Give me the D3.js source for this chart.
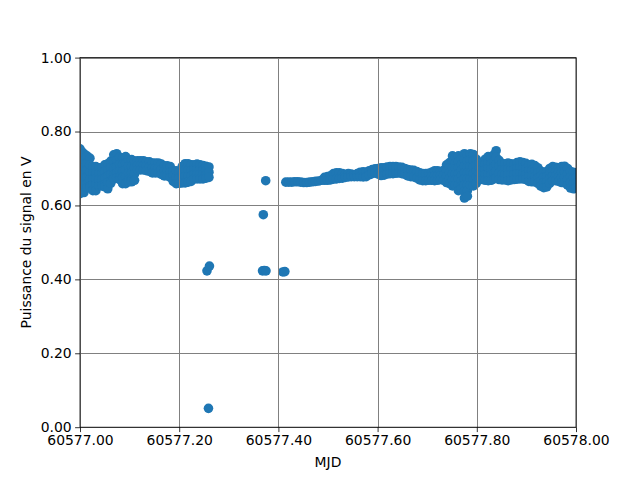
<!DOCTYPE html>
<html><head><meta charset="utf-8">
<script src="https://cdn.jsdelivr.net/npm/d3@7"></script>
<style>html,body{margin:0;padding:0;background:#fff;}</style>
</head><body>
<script>
// Readings per timestamp (MJD) and signal power (V)
const sampleMjd = [
60577.000,60577.004,60577.008,60577.014,60577.020,60577.026,60577.032,60577.038,60577.044,60577.050,
60577.056,60577.062,60577.068,60577.074,60577.080,60577.086,60577.092,60577.098,60577.104,60577.110,
60577.116,60577.122,60577.128,60577.134,60577.140,60577.146,60577.152,60577.158,60577.164,60577.170,
60577.176,60577.182,60577.188,60577.194,60577.200,60577.206,60577.212,60577.218,60577.224,60577.230,
60577.236,60577.242,60577.248,60577.254,60577.260,
60577.256,60577.259,60577.261,60577.368,60577.3696,60577.3715,60577.3744,60577.375,60577.409,60577.413,
60577.415,60577.421,60577.427,60577.433,60577.439,60577.445,60577.451,60577.457,60577.463,60577.469,
60577.475,60577.481,60577.487,60577.493,60577.499,60577.505,60577.511,60577.517,60577.523,60577.529,
60577.535,60577.541,60577.547,60577.553,60577.559,60577.565,60577.571,60577.577,60577.583,60577.589,
60577.595,60577.601,60577.607,60577.613,60577.619,60577.625,60577.631,60577.637,60577.643,60577.649,
60577.655,60577.661,60577.667,60577.673,60577.679,60577.685,60577.691,60577.697,60577.703,60577.709,
60577.715,60577.721,60577.727,60577.733,60577.739,60577.745,60577.751,60577.757,60577.763,60577.769,
60577.775,60577.781,60577.787,60577.793,60577.799,60577.805,60577.811,60577.817,60577.823,60577.829,
60577.835,60577.839,60577.845,60577.851,60577.857,60577.863,60577.869,60577.875,60577.881,60577.887,
60577.893,60577.899,60577.905,60577.911,60577.917,60577.923,60577.929,60577.935,60577.941,60577.947,
60577.953,60577.959,60577.965,60577.971,60577.977,60577.983,60577.989,60577.995,60578.000
];
const samplePower = [
[0.753,0.733,0.713,0.693,0.673,0.652,0.632],[0.745,0.726,0.707,0.688,0.669,0.650,0.640],[0.740,0.721,0.702,0.683,0.664,0.645,0.635],[0.734,0.715,0.696,0.677,0.658,0.648],[0.728,0.709,0.690,0.670,0.652,0.648],
[0.705,0.688,0.672,0.656,0.640],[0.705,0.688,0.672,0.656,0.640],[0.702,0.686,0.670,0.653],[0.702,0.686,0.670,0.653],[0.710,0.692,0.674,0.656,0.650],
[0.713,0.696,0.679,0.662,0.645],[0.720,0.702,0.684,0.666,0.660],[0.737,0.719,0.701,0.683,0.672],[0.740,0.722,0.705,0.688,0.675],[0.730,0.712,0.694,0.676,0.670],
[0.729,0.711,0.693,0.676,0.659],[0.732,0.714,0.696,0.678,0.659],[0.724,0.706,0.688,0.670,0.664],[0.724,0.706,0.688,0.670,0.664],[0.720,0.702,0.685,0.668],
[0.721,0.708,0.696],[0.721,0.708,0.696],[0.721,0.708,0.696],[0.718,0.706,0.694],[0.718,0.705,0.692],
[0.715,0.701,0.688],[0.715,0.701,0.688],[0.715,0.701,0.688],[0.712,0.698,0.684],[0.707,0.693,0.680],
[0.707,0.693,0.680],[0.705,0.690,0.676],[0.694,0.680,0.665],[0.694,0.676,0.659],[0.690,0.675,0.660],
[0.705,0.690,0.675,0.661],[0.713,0.696,0.679,0.661],[0.713,0.696,0.679,0.663],[0.710,0.695,0.680,0.665],[0.710,0.697,0.684,0.672],
[0.712,0.698,0.685,0.672],[0.710,0.697,0.684,0.672],[0.708,0.696,0.684,0.672],[0.706,0.694,0.682,0.674],[0.704,0.690,0.676],
[0.423],[0.051],[0.436],[0.423],[0.575],[0.424],[0.667],[0.423],[0.420],[0.421],
[0.663],[0.663],[0.663],[0.664],[0.664],[0.663],[0.662],[0.662],[0.663],[0.664],
[0.665],[0.666],[0.668],[0.676,0.668],[0.678,0.668],[0.680,0.669],[0.686,0.671],[0.688,0.672],[0.688,0.673],[0.686,0.674],
[0.684,0.676],[0.686,0.677],[0.685,0.678],[0.683,0.678],[0.686,0.678],[0.690,0.678],[0.691,0.677],[0.690,0.678],[0.694,0.683],[0.697,0.686],
[0.699,0.688],[0.700,0.685],[0.702,0.691,0.681],[0.702,0.692,0.682],[0.704,0.685],[0.705,0.686],[0.705,0.686],[0.705,0.687],[0.704,0.688],[0.703,0.686],
[0.700,0.684],[0.697,0.680],[0.696,0.678],[0.695,0.677],[0.692,0.674],[0.688,0.669],[0.686,0.667],[0.686,0.667],[0.687,0.668],[0.690,0.679,0.668],
[0.694,0.680,0.667],[0.694,0.681,0.668],[0.692,0.681,0.670],[0.695,0.682,0.668],[0.710,0.694,0.678,0.662],[0.716,0.702,0.688,0.673,0.659],[0.734,0.718,0.702,0.685,0.669,0.653],[0.730,0.715,0.700,0.685,0.670,0.655],[0.734,0.718,0.702,0.686,0.671,0.655,0.640],[0.726,0.711,0.696,0.681,0.666,0.652,0.645],
[0.740,0.723,0.706,0.689,0.672,0.655,0.638,0.620],[0.736,0.720,0.704,0.688,0.672,0.656,0.640,0.625],[0.740,0.723,0.706,0.689,0.672,0.655],[0.738,0.721,0.704,0.687,0.670,0.653],[0.725,0.709,0.693,0.677,0.660],[0.715,0.701,0.687,0.672],[0.712,0.698,0.684,0.670],[0.725,0.711,0.697,0.683,0.668],[0.732,0.716,0.700,0.684,0.667],[0.728,0.713,0.698,0.683,0.668],
[0.738,0.721,0.705,0.688,0.672],[0.748,0.730,0.711,0.692,0.674],[0.722,0.705,0.688,0.670],[0.713,0.698,0.684,0.669],[0.713,0.698,0.684,0.669],[0.715,0.699,0.683,0.667],[0.713,0.698,0.684,0.669],[0.711,0.697,0.684,0.670],[0.716,0.701,0.686,0.671],[0.718,0.703,0.688,0.672],
[0.716,0.701,0.686,0.672],[0.714,0.699,0.684,0.670],[0.710,0.695,0.680,0.665],[0.711,0.695,0.680,0.664],[0.708,0.693,0.678,0.664],[0.702,0.688,0.674,0.660],[0.693,0.679,0.665,0.652],[0.690,0.676,0.662,0.648],[0.692,0.678,0.664,0.650],[0.700,0.687,0.673,0.660],
[0.705,0.692,0.680,0.667],[0.703,0.691,0.679,0.667],[0.702,0.690,0.677,0.665],[0.705,0.691,0.676,0.662],[0.706,0.691,0.676,0.661],[0.700,0.685,0.670,0.655],[0.692,0.677,0.662,0.647],[0.690,0.675,0.660,0.645],[0.688,0.675,0.661,0.648]
];
const xTicks = [60577.0, 60577.2, 60577.4, 60577.6, 60577.8, 60578.0];
const yTicks = [0.0, 0.2, 0.4, 0.6, 0.8, 1.0];
const xLabel = "MJD";
const yLabel = "Puissance du signal en V";

const W = 640, H = 480;
const m = {left: 80, right: 576, top: 57.6, bottom: 427.2};
const font = "'DejaVu Sans', sans-serif";

const points = [];
sampleMjd.forEach((t, i) => samplePower[i].forEach(v => points.push({t, v})));

const x = d3.scaleLinear().domain([60577.0, 60578.0]).range([m.left, m.right]);
const y = d3.scaleLinear().domain([0, 1]).range([m.bottom, m.top]);

const svg = d3.select("body").append("svg").attr("width", W).attr("height", H)
  .style("font-family", font);
svg.append("rect").attr("width", W).attr("height", H).attr("fill", "#fff");

svg.append("defs").append("clipPath").attr("id", "clip")
  .append("rect").attr("x", m.left).attr("y", m.top)
  .attr("width", m.right - m.left).attr("height", m.bottom - m.top);

svg.append("g").attr("clip-path", "url(#clip)")
  .selectAll("circle").data(points).join("circle")
  .attr("cx", d => x(d.t)).attr("cy", d => y(d.v)).attr("r", 4.8)
  .attr("fill", "#1f77b4");

// grid (above markers, as in the reference)
const grid = svg.append("g").attr("stroke", "#808080").attr("stroke-width", 1);
grid.selectAll(".gx").data(xTicks).join("line")
  .attr("x1", d => Math.round(x(d)) + 0.5).attr("x2", d => Math.round(x(d)) + 0.5)
  .attr("y1", m.top).attr("y2", m.bottom);
grid.selectAll(".gy").data(yTicks).join("line")
  .attr("y1", d => Math.round(y(d)) + 0.5).attr("y2", d => Math.round(y(d)) + 0.5)
  .attr("x1", m.left).attr("x2", m.right);

const xAxis = d3.axisBottom(x).tickValues(xTicks).tickFormat(d3.format(".2f"))
  .tickSize(4.9).tickPadding(3.5);
const yAxis = d3.axisLeft(y).tickValues(yTicks).tickFormat(d3.format(".2f"))
  .tickSize(4.9).tickPadding(3.5);

const gx = svg.append("g").attr("transform", `translate(0,${m.bottom})`).call(xAxis);
const gy = svg.append("g").attr("transform", `translate(${m.left},0)`).call(yAxis);
[gx, gy].forEach(g => {
  g.select(".domain").remove();
  g.selectAll("line").attr("stroke", "#000").attr("stroke-width", 0.8);
  g.selectAll("text").attr("fill", "#000").style("font-size", "13.9px").style("font-family", font);
});

// spines
svg.append("rect").attr("x", m.left).attr("y", m.top)
  .attr("width", m.right - m.left).attr("height", m.bottom - m.top)
  .attr("fill", "none").attr("stroke", "#000").attr("stroke-width", 0.8);

svg.append("text").attr("x", (m.left + m.right) / 2).attr("y", 467)
  .attr("text-anchor", "middle").style("font-size", "13.9px").text(xLabel);
svg.append("text").attr("transform", `translate(31,${(m.top + m.bottom) / 2}) rotate(-90)`)
  .attr("text-anchor", "middle").style("font-size", "13.9px").text(yLabel);
</script>
</body></html>
